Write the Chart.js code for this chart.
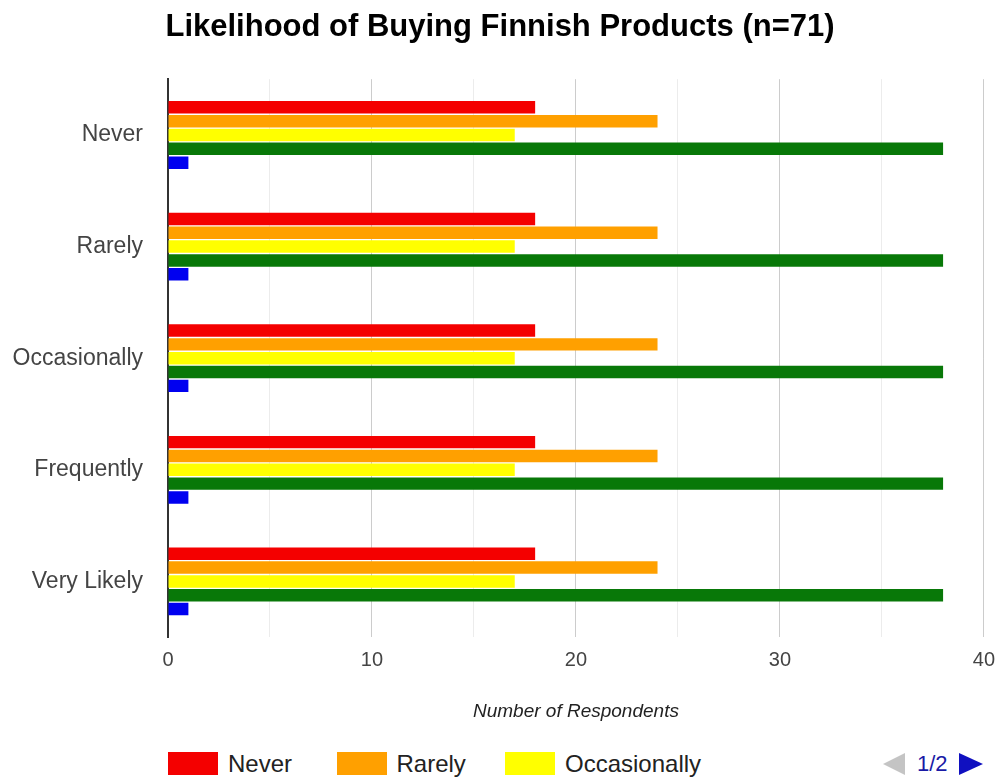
<!DOCTYPE html>
<html>
<head>
<meta charset="utf-8">
<script src="https://cdn.jsdelivr.net/npm/chart.js@4"></script>
<style>
    body { margin: 0; background: #fff; font-family: "Liberation Sans", Arial, sans-serif; }
    #wrap { position: relative; width: 1000px; height: 780px; }
    #chart { position: absolute; left: 0; top: 0; }
    #legend { position: absolute; left: 168px; top: 752px; width: 700px; height: 23px; }
    .item { position: absolute; top: 0; height: 23px; display: flex; align-items: center; font-size: 24px; color: #222; white-space: nowrap; }
    .box { width: 50px; height: 23px; margin-right: 10px; flex-shrink: 0; }
    #pager { position: absolute; left: 883px; top: 752px; height: 23px; display: flex; align-items: center; font-size: 22px; color: #1a1aa6; }
    .tri-l { width: 0; height: 0; border-top: 11px solid transparent; border-bottom: 11px solid transparent; border-right: 22px solid #c4c4c4; margin-right: 12px; }
    .tri-r { width: 0; height: 0; border-top: 11px solid transparent; border-bottom: 11px solid transparent; border-left: 24px solid #1010c0; margin-left: 11px; }
</style>
</head>
<body>
<div id="wrap">
    <canvas id="chart" width="1000" height="745"></canvas>
    <div id="legend"></div>
    <div id="pager"><div class="tri-l"></div><span>1/2</span><div class="tri-r"></div></div>
</div>
<script>
const categories = ['Never', 'Rarely', 'Occasionally', 'Frequently', 'Very Likely'];
const seriesNames = ['Never', 'Rarely', 'Occasionally', 'Frequently', 'Very Likely'];
const seriesColors = ['#f40000', '#ffa000', '#ffff00', '#087808', '#0000f0'];

const neverCounts = [18, 18, 18, 18, 18];
const rarelyCounts = [24, 24, 24, 24, 24];
const occasionallyCounts = [17, 17, 17, 17, 17];
const frequentlyCounts = [38, 38, 38, 38, 38];
const veryLikelyCounts = [1, 1, 1, 1, 1];

const seriesData = [neverCounts, rarelyCounts, occasionallyCounts, frequentlyCounts, veryLikelyCounts];
const fontFamily = '"Liberation Sans", Arial, sans-serif';

const datasets = seriesNames.map(function (name, i) {
    return {
        label: name,
        data: seriesData[i],
        backgroundColor: seriesColors[i],
        borderWidth: 0,
        categoryPercentage: 0.62,
        barPercentage: 0.9
    };
});

const config = {
    type: 'bar',
    data: { labels: categories, datasets: datasets },
    options: {
        indexAxis: 'y',
        responsive: false,
        animation: false,
        layout: { padding: { left: 0, right: 0, top: 0, bottom: 22 } },
        plugins: {
            legend: { display: false },
            tooltip: { enabled: false },
            title: {
                display: true,
                text: 'Likelihood of Buying Finnish Products (n=71)',
                color: '#000',
                font: { family: fontFamily, size: 31, weight: 'bold' },
                padding: { top: 9, bottom: 33 }
            }
        },
        scales: {
            x: {
                min: 0,
                max: 40,
                border: { display: false },
                grid: {
                    drawTicks: true,
                    tickLength: 6,
                    tickColor: 'rgba(0,0,0,0)',
                    color: function (ctx) {
                        return ctx.tick && ctx.tick.value % 10 === 0 ? '#cccccc' : '#ececec';
                    }
                },
                ticks: {
                    stepSize: 5,
                    padding: 5,
                    color: '#444',
                    font: { family: fontFamily, size: 20 },
                    callback: function (v) { return v % 10 === 0 ? v : ''; }
                },
                title: {
                    display: true,
                    text: 'Number of Respondents',
                    color: '#222',
                    font: { family: fontFamily, size: 19, style: 'italic' },
                    padding: { top: 23, bottom: 0 }
                }
            },
            y: {
                border: { display: true, color: '#333', width: 2 },
                grid: { display: false, drawTicks: false },
                ticks: {
                    padding: 25,
                    color: '#444',
                    font: { family: fontFamily, size: 23 }
                },
                afterFit: function (scale) { scale.width = 168; }
            }
        }
    }
};

const ch = new Chart(document.getElementById('chart'), config);

// first legend page: three series per page
const legend = document.getElementById('legend');
seriesNames.slice(0, 3).forEach(function (name, i) {
    const item = document.createElement('div');
    item.className = 'item';
    item.style.left = (i * 168.5) + 'px';
    const box = document.createElement('div');
    box.className = 'box';
    box.style.background = seriesColors[i];
    item.appendChild(box);
    item.appendChild(document.createTextNode(name));
    legend.appendChild(item);
});
</script>
</body>
</html>
